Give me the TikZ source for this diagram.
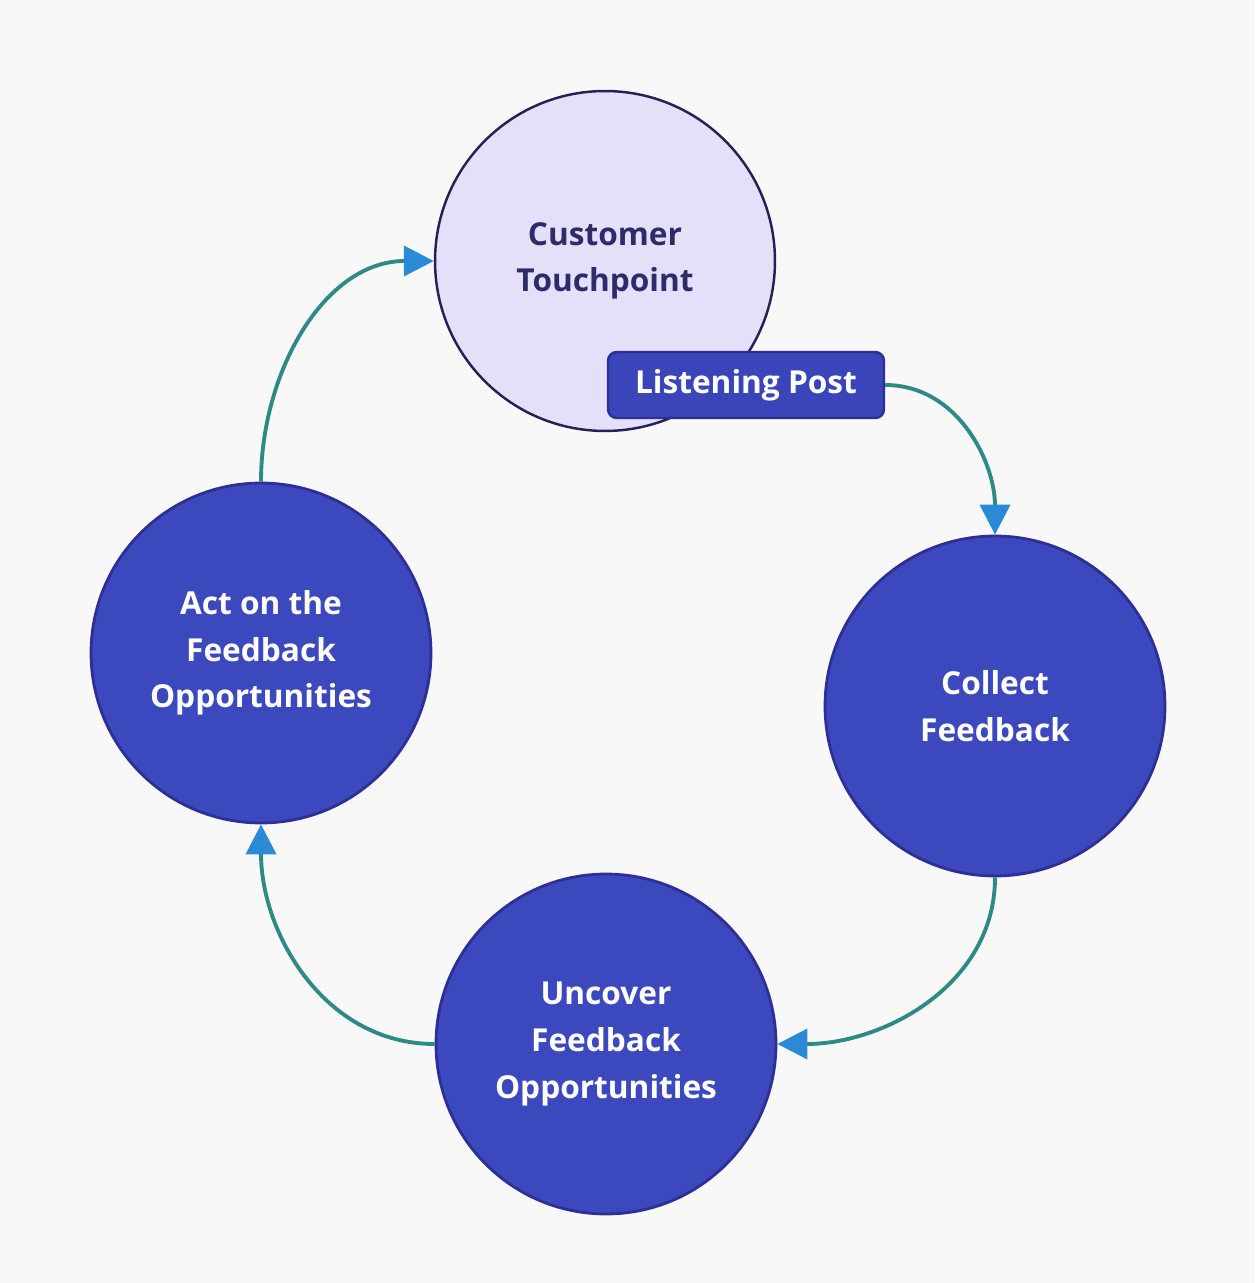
\documentclass[tikz,border=0pt]{standalone}
\usepackage{fontspec}
\setmainfont{Open Sans}
\usepackage{xcolor}
\usetikzlibrary{arrows.meta}
\definecolor{paper}{HTML}{F8F8F8}
\definecolor{lilac}{HTML}{E4E0FA}
\definecolor{indigo}{HTML}{3C48BE}
\definecolor{deepblue}{HTML}{2E2F96}
\definecolor{navytext}{HTML}{2D2B6A}
\definecolor{loopline}{HTML}{2F8A86}
\definecolor{tipblue}{HTML}{2A8AD6}

\begin{document}
\begin{tikzpicture}[x=0.02cm, y=-0.02cm,
	stage/.style={circle, minimum size=6.8cm, inner sep=0pt, align=center,
		font=\fontsize{18}{26.5}\selectfont\bfseries},
	darkstage/.style={stage, fill=indigo, draw=deepblue, line width=1.6pt, text=white},
	lightstage/.style={stage, fill=lilac, draw=navytext!80!black, line width=1.4pt, text=navytext},
	postbox/.style={rectangle, rounded corners=5pt, fill=indigo!90!deepblue, draw=deepblue,
		line width=1.4pt, text=white, minimum width=5.52cm, minimum height=1.32cm,
		font=\fontsize{18}{22}\selectfont\bfseries},
	loop/.style={line width=2.2pt, draw=loopline,
		-{Triangle[length=0.6cm, width=0.6cm, color=tipblue]}}]
\fill[paper] (0,0) rectangle (1255,1283);
\useasboundingbox (0,0) rectangle (1255,1283);
\node[lightstage] (touch) at (605,261) {Customer\\Touchpoint};
\node[postbox] (post) at (746,385) {Listening Post};
\node[darkstage] (collect) at (995,706) {Collect\\Feedback};
\node[darkstage] (uncover) at (606,1044) {Uncover\\Feedback\\Opportunities};
\node[darkstage] (act) at (261,653) {Act on the\\Feedback\\Opportunities};
\draw[loop] (post.east) to[out=0, in=90] (collect.north);
\draw[loop] (collect.south) to[out=-90, in=0] (uncover.east);
\draw[loop] (uncover.west) to[out=180, in=-90] (act.south);
\draw[loop] (act.north) to[out=90, in=180] (touch.west);
\end{tikzpicture}
\end{document}
